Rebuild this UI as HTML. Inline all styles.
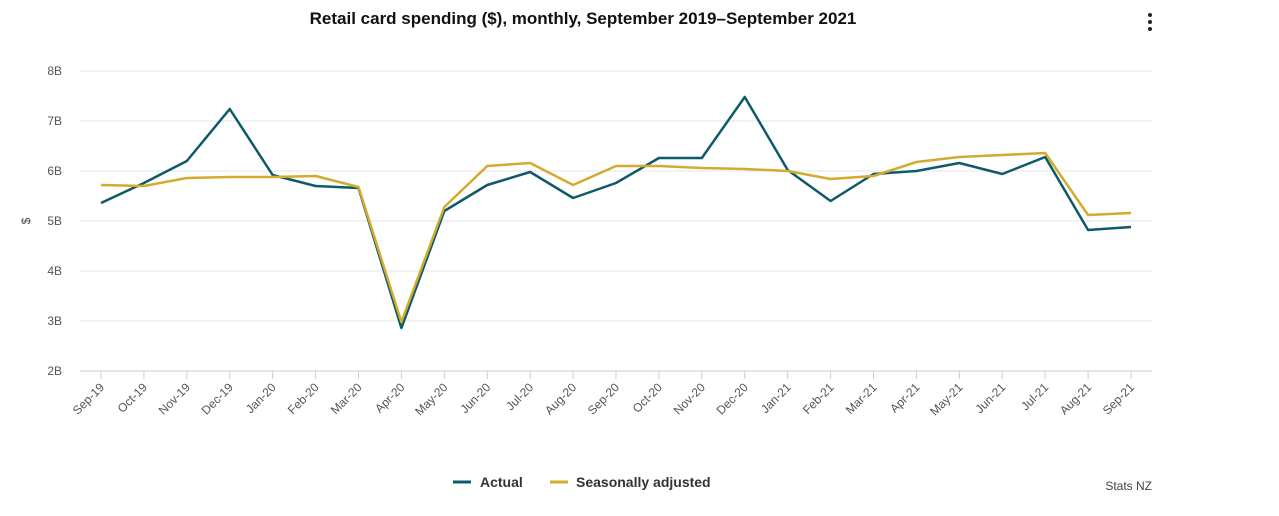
<!DOCTYPE html>
<html><head><meta charset="utf-8"><style>
body{margin:0;background:#fff;width:1279px;height:511px;overflow:hidden;font-family:"Liberation Sans",sans-serif;}
svg text{font-family:"Liberation Sans",sans-serif;}
</style></head><body>
<svg id="chart" width="1279" height="511">
<text x="583" y="24" text-anchor="middle" font-size="17" font-weight="bold" fill="#111">Retail card spending ($), monthly, September 2019–September 2021</text>
<g><circle cx="1150" cy="15" r="2" fill="#222"/><circle cx="1150" cy="22" r="2" fill="#222"/><circle cx="1150" cy="29" r="2" fill="#222"/></g>
<text x="30" y="221" font-size="12" fill="#444" transform="rotate(-90 30 221)" text-anchor="middle">$</text>
<g id="grid"></g><g id="xaxis"></g><g id="series"></g>
<g>
<g><line x1="453" y1="482" x2="471" y2="482" stroke="#0e5a69" stroke-width="3"/><text x="480" y="487" font-size="14" font-weight="bold" fill="#333">Actual</text></g>
<g><line x1="550" y1="482" x2="568" y2="482" stroke="#d3ab2e" stroke-width="3"/><text x="576" y="487" font-size="14" font-weight="bold" fill="#333">Seasonally adjusted</text></g>
</g>
<text x="1152" y="490" text-anchor="end" font-size="12" fill="#444">Stats NZ</text>
</svg>
<script>
const categories=["Sep-19","Oct-19","Nov-19","Dec-19","Jan-20","Feb-20","Mar-20","Apr-20","May-20","Jun-20","Jul-20","Aug-20","Sep-20","Oct-20","Nov-20","Dec-20","Jan-21","Feb-21","Mar-21","Apr-21","May-21","Jun-21","Jul-21","Aug-21","Sep-21"];
const actual=[5.36,5.76,6.2,7.24,5.92,5.7,5.66,2.86,5.2,5.72,5.98,5.46,5.76,6.26,6.26,7.48,6.02,5.4,5.94,6.0,6.16,5.94,6.28,4.82,4.88];
const seasonal=[5.72,5.7,5.86,5.88,5.88,5.9,5.68,2.98,5.28,6.1,6.16,5.72,6.1,6.1,6.06,6.04,6.0,5.84,5.9,6.18,6.28,6.32,6.36,5.12,5.16];
const yTicks=[2,3,4,5,6,7,8];
const yTickLabels=["2B","3B","4B","5B","6B","7B","8B"];
const NS="http://www.w3.org/2000/svg";
const L=80,R=1152,T=71,B=371,x0=101,x1=1131;
const xs=i=>x0+(x1-x0)*i/(categories.length-1);
const ys=v=>B-(v-2)/(8-2)*(B-T);
function mk(tag,attrs,parent){const e=document.createElementNS(NS,tag);for(const k in attrs)e.setAttribute(k,attrs[k]);parent.appendChild(e);return e;}
const grid=document.getElementById('grid');
yTicks.forEach((v,i)=>{
  const l=mk('line',{x1:L,x2:R,y1:ys(v),y2:ys(v),stroke:i===0?'#c8cdd8':'#e3e6ec','stroke-width':1},grid);
  
  
  const t=mk('text',{x:62,y:ys(v)+4,'text-anchor':'end','font-size':12,fill:'#555'},grid);
  t.textContent=yTickLabels[i];
  
  
});
const xa=document.getElementById('xaxis');
categories.forEach((c,i)=>{
  const x=xs(i);
  const tk=mk('line',{x1:x,x2:x,y1:B,y2:B+8,stroke:'#c8cdd8'},xa);
  
  
  const t=mk('text',{x:x+4,y:B+17,'text-anchor':'end','font-size':12,fill:'#555',transform:`rotate(-45 ${x+4} ${B+17})`},xa);
  t.textContent=c;
  
  
});
const sg=document.getElementById('series');
[[actual,'#0e5a69','actual-line'],[seasonal,'#d3ab2e','seasonally-adjusted-line']].forEach(([d,col,n])=>{
  const p=mk('polyline',{points:d.map((v,i)=>xs(i)+','+ys(v)).join(' '),fill:'none',stroke:col,'stroke-width':2.5,'stroke-linejoin':'round'},sg);
  
  
});
</script>
</body></html>
